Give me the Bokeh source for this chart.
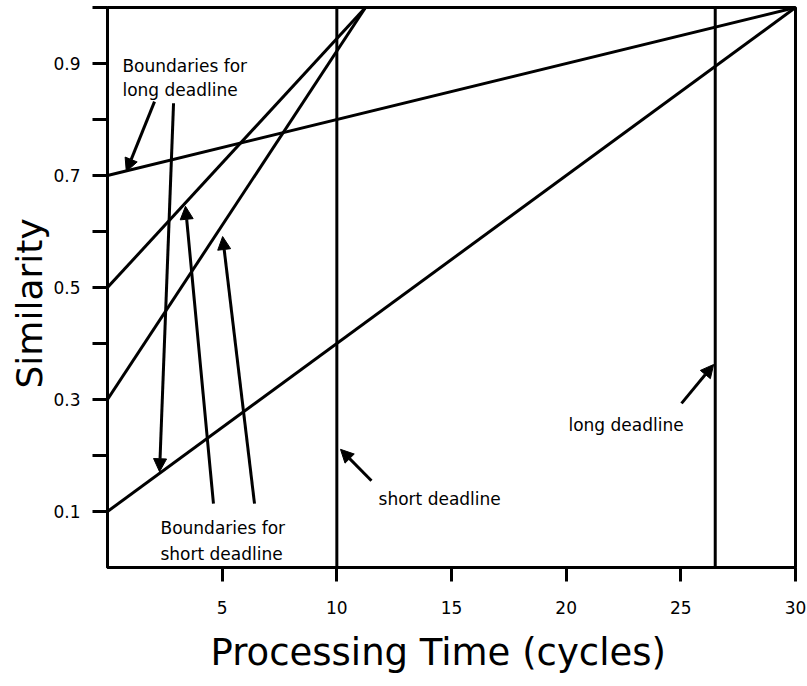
from bokeh.plotting import figure
from bokeh.models import Range1d, FixedTicker, Arrow, NormalHead, Label, Title
from bokeh.embed import file_html
from bokeh.resources import INLINE

# Boundary lines (start/end points in data units)
bound_x0 = [0, 0, 0, 0]
bound_y0 = [0.7, 0.1, 0.5, 0.3]
bound_x1 = [30, 30, 11.25, 11.25]
bound_y1 = [1.0, 1.0, 1.0, 1.0]

# Deadlines (processing time in cycles)
deadlines = [10, 26.5]

x_ticks = [5, 10, 15, 20, 25, 30]
y_ticks = [0.1, 0.2, 0.3, 0.4, 0.5, 0.6, 0.7, 0.8, 0.9, 1.0]
y_tick_labels = ["0.1", "", "0.3", "", "0.5", "", "0.7", "", "0.9", ""]

FONT = "DejaVu Sans"

p = figure(width=807, height=686, output_backend="svg", toolbar_location=None,
           x_range=Range1d(0, 30), y_range=Range1d(0, 1),
           min_border_left=107, min_border_right=12, min_border_top=7, min_border_bottom=119)
p.grid.visible = False
p.outline_line_color = "black"
p.outline_line_width = 3
p.background_fill_color = "white"
p.border_fill_color = "white"

for ax in (p.xaxis[0], p.yaxis[0]):
    ax.axis_line_width = 3
    ax.major_tick_line_width = 3
    ax.minor_tick_line_color = None
    ax.major_tick_in = 0
    ax.major_label_text_font = FONT
    ax.major_label_text_font_size = "17px"
    ax.major_label_text_color = "black"

p.xaxis.ticker = FixedTicker(ticks=x_ticks)
p.xaxis.major_tick_out = 14
p.xaxis.major_label_standoff = 19

p.yaxis.ticker = FixedTicker(ticks=y_ticks)
p.yaxis.major_label_overrides = {t: l for t, l in zip(y_ticks, y_tick_labels)}
p.yaxis.major_tick_out = 15
p.yaxis.major_label_standoff = 12

# axis titles as side titles (allow offset along the axis)
p.add_layout(Title(text="Processing Time (cycles)", align="left", offset=103,
                   text_font=FONT, text_font_size="37px", text_font_style="normal",
                   text_color="black", standoff=24), "below")
p.add_layout(Title(text="Similarity", align="left", offset=179,
                   text_font=FONT, text_font_size="36px", text_font_style="normal",
                   text_color="black", standoff=2), "left")

p.segment(x0=bound_x0, y0=bound_y0, x1=bound_x1, y1=bound_y1, line_color="black", line_width=3)
p.segment(x0=deadlines, y0=[0] * len(deadlines), x1=deadlines, y1=[1] * len(deadlines),
          line_color="black", line_width=3)

# annotations: text labels
labels = [
    ("Boundaries for", 0.65, 0.895),
    ("long deadline", 0.65, 0.852),
    ("Boundaries for", 2.31, 0.071),
    ("short deadline", 2.31, 0.025),
    ("short deadline", 11.82, 0.123),
    ("long deadline", 20.1, 0.255),
]
for t, x, y in labels:
    p.add_layout(Label(x=x, y=y, text=t, text_font=FONT, text_font_size="17px",
                       text_color="black", text_baseline="alphabetic", text_align="left"))

# annotation arrows: (start x, start y, tip x, tip y)
arrows = [
    (2.05, 0.832, 0.82, 0.707),
    (2.88, 0.829, 2.27, 0.171),
    (4.62, 0.114, 3.40, 0.645),
    (6.41, 0.114, 5.02, 0.591),
    (11.51, 0.155, 10.16, 0.211),
    (25.03, 0.293, 26.43, 0.3625),
]
for xs, ys, xe, ye in arrows:
    p.add_layout(Arrow(x_start=xs, y_start=ys, x_end=xe, y_end=ye, line_width=3, line_color="black",
                       end=NormalHead(size=13, fill_color="black", line_color="black", line_width=1)))

open("out.html", "w").write(file_html(p, INLINE))
